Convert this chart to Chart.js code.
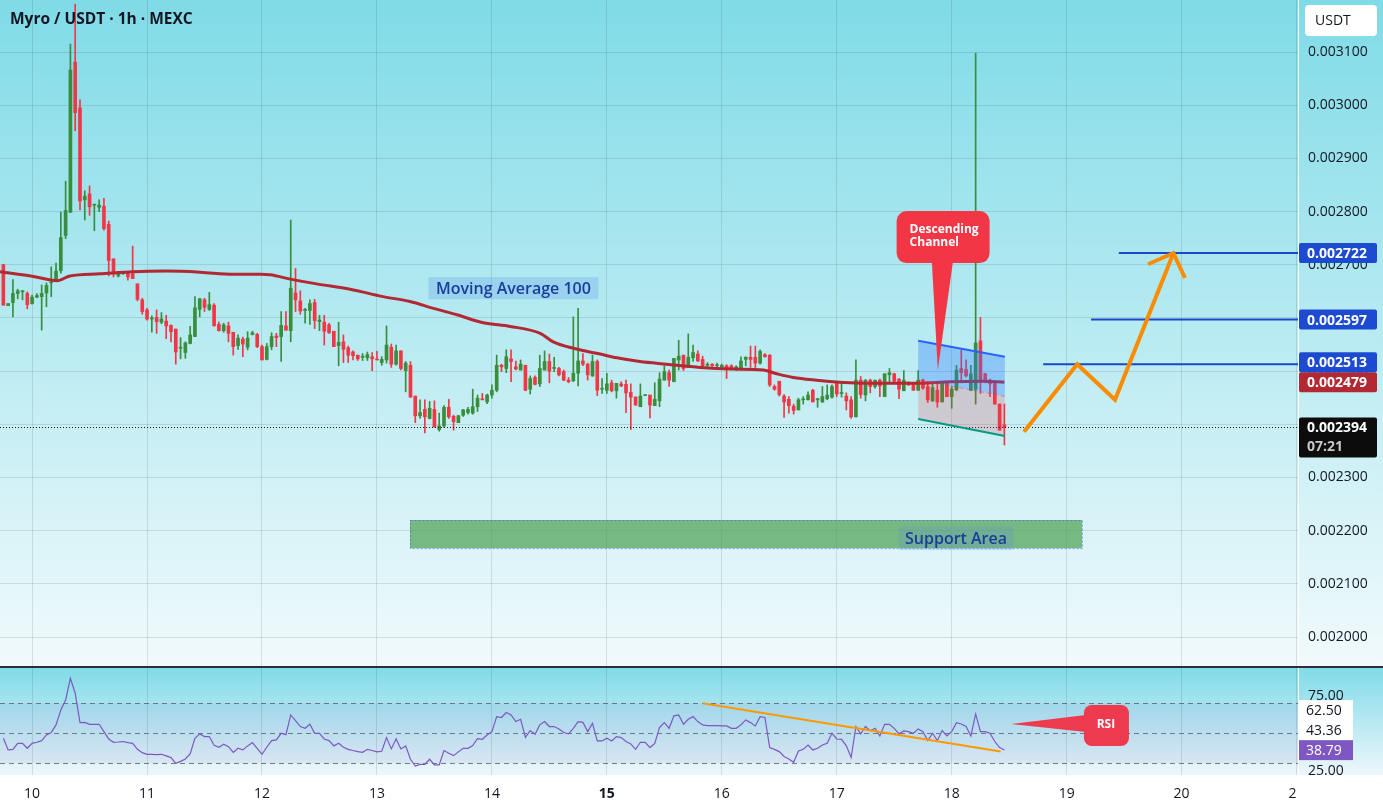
<!DOCTYPE html>
<html>
<head>
<meta charset="utf-8">
<title>Myro / USDT · 1h · MEXC</title>
<script src="https://cdn.jsdelivr.net/npm/chart.js@4.4.1/dist/chart.umd.min.js"></script>
<style>
  html, body { margin: 0; padding: 0; background: #fff; }
  #wrap { position: relative; width: 1383px; height: 811px; overflow: hidden; }
  #mainChart { position: absolute; left: 0; top: 0; }
  #sep { position: absolute; left: 0; top: 666px; width: 1383px; height: 2px; background: #2a2e39; }
  #rsiChart { position: absolute; left: 0; top: 668px; }
</style>
</head>
<body>
<div id="wrap">
  <canvas id="mainChart" width="1383" height="666"></canvas>
  <div id="sep"></div>
  <canvas id="rsiChart" width="1383" height="143"></canvas>
</div>
<script>
const FONT = '"Open Sans", "Noto Sans", sans-serif';
const TEXT = '#131722';
const GRID = 'rgba(42, 46, 57, 0.13)';
const UP = '#388e3c';
const DOWN = '#f23645';
const AXIS_W = 85;

// time axis in hours from the 10th 00:00, one candle per hour
const X_MIN = -6.7, X_MAX = 264.3;
const dayTicks = [0, 24, 48, 72, 96, 120, 144, 168, 192, 216, 240, 264];
const dayLabels = ['10', '11', '12', '13', '14', '15', '16', '17', '18', '19', '20', '21'];
const firstHour = -6;

// price axis, values in millionths of USDT
const PRICE_MIN = 1945.5, PRICE_MAX = 3197.8;
const priceTicks = [2000, 2100, 2200, 2300, 2400, 2500, 2600, 2700, 2800, 2900, 3000, 3100];

const open = [
  2700, 2623, 2629, 2646, 2649, 2646, 2627, 2639, 2640, 2647, 2666, 2671, 2689, 2755, 2799, 3081, 2995, 2822, 2833, 2812,
  2808, 2810, 2776, 2711, 2679, 2683, 2685, 2683, 2664, 2634, 2615, 2598, 2601, 2592, 2594, 2586, 2579, 2543, 2535, 2552,
  2565, 2616, 2634, 2616, 2624, 2588, 2576, 2585, 2573, 2548, 2560, 2545, 2569, 2569, 2546, 2522, 2546, 2566, 2565, 2585,
  2576, 2647, 2632, 2614, 2614, 2629, 2593, 2592, 2587, 2575, 2548, 2555, 2544, 2536, 2530, 2526, 2525, 2527, 2522, 2516,
  2521, 2545, 2513, 2538, 2501, 2511, 2453, 2416, 2428, 2411, 2428, 2390, 2397, 2432, 2415, 2403, 2417, 2422, 2421, 2433,
  2447, 2442, 2455, 2464, 2511, 2505, 2523, 2508, 2502, 2511, 2466, 2488, 2476, 2502, 2518, 2505, 2505, 2499, 2483, 2482,
  2496, 2519, 2513, 2491, 2518, 2466, 2464, 2478, 2463, 2476, 2475, 2460, 2451, 2433, 2454, 2455, 2435, 2444, 2483, 2497,
  2480, 2521, 2530, 2507, 2525, 2532, 2522, 2511, 2513, 2510, 2508, 2510, 2510, 2505, 2506, 2522, 2526, 2526, 2515, 2531,
  2530, 2471, 2481, 2453, 2447, 2434, 2427, 2446, 2446, 2464, 2446, 2442, 2448, 2451, 2477, 2458, 2453, 2446, 2414, 2483,
  2455, 2483, 2471, 2483, 2452, 2493, 2495, 2485, 2463, 2478, 2477, 2464, 2483, 2471, 2444, 2464, 2442, 2480, 2452, 2465,
  2505, 2503, 2464, 2466, 2557, 2495, 2483, 2477, 2438, 2399
];
const high = [
  2701, 2627, 2672, 2654, 2652, 2649, 2643, 2646, 2662, 2666, 2696, 2703, 2799, 2857, 3115, 3190, 3010, 2839, 2848, 2814,
  2822, 2825, 2782, 2711, 2687, 2687, 2687, 2735, 2664, 2637, 2618, 2604, 2615, 2610, 2605, 2587, 2579, 2563, 2555, 2584,
  2640, 2637, 2637, 2648, 2627, 2592, 2590, 2592, 2573, 2568, 2564, 2574, 2575, 2571, 2549, 2552, 2572, 2571, 2612, 2612,
  2784, 2693, 2651, 2618, 2634, 2635, 2605, 2605, 2590, 2575, 2592, 2568, 2547, 2538, 2530, 2533, 2536, 2535, 2537, 2527,
  2585, 2551, 2549, 2538, 2518, 2518, 2453, 2446, 2446, 2443, 2444, 2421, 2435, 2447, 2417, 2417, 2428, 2432, 2466, 2455,
  2458, 2457, 2474, 2530, 2513, 2540, 2540, 2519, 2521, 2511, 2491, 2491, 2530, 2538, 2532, 2526, 2507, 2502, 2488, 2602,
  2618, 2533, 2515, 2530, 2521, 2486, 2496, 2483, 2477, 2480, 2483, 2476, 2452, 2476, 2455, 2455, 2478, 2497, 2510, 2502,
  2524, 2558, 2530, 2570, 2549, 2538, 2528, 2516, 2514, 2515, 2513, 2512, 2512, 2510, 2527, 2527, 2547, 2547, 2540, 2533,
  2531, 2474, 2481, 2456, 2452, 2438, 2449, 2452, 2461, 2466, 2449, 2471, 2474, 2474, 2478, 2477, 2459, 2452, 2521, 2490,
  2484, 2485, 2483, 2485, 2495, 2505, 2496, 2486, 2501, 2480, 2479, 2501, 2485, 2480, 2477, 2480, 2480, 2481, 2471, 2511,
  2540, 2521, 2511, 3098, 2601, 2496, 2485, 2480, 2438, 2438
];
const low = [
  2624, 2623, 2602, 2636, 2634, 2617, 2626, 2638, 2577, 2621, 2640, 2670, 2684, 2749, 2798, 2952, 2803, 2784, 2793, 2764,
  2800, 2765, 2679, 2677, 2677, 2682, 2671, 2674, 2632, 2607, 2596, 2573, 2571, 2589, 2561, 2555, 2513, 2523, 2524, 2551,
  2565, 2602, 2612, 2614, 2585, 2575, 2573, 2555, 2530, 2541, 2527, 2540, 2568, 2544, 2521, 2521, 2540, 2546, 2518, 2577,
  2555, 2612, 2607, 2590, 2588, 2580, 2576, 2549, 2571, 2546, 2510, 2516, 2516, 2521, 2520, 2520, 2520, 2501, 2521, 2511,
  2515, 2507, 2511, 2502, 2461, 2451, 2403, 2411, 2384, 2410, 2395, 2387, 2394, 2411, 2389, 2403, 2415, 2419, 2419, 2424,
  2446, 2439, 2449, 2461, 2499, 2497, 2480, 2502, 2502, 2463, 2457, 2474, 2471, 2502, 2478, 2499, 2491, 2482, 2478, 2480,
  2472, 2510, 2483, 2490, 2454, 2458, 2458, 2461, 2449, 2471, 2422, 2390, 2436, 2433, 2454, 2412, 2435, 2433, 2483, 2471,
  2480, 2502, 2501, 2507, 2518, 2518, 2507, 2508, 2509, 2508, 2507, 2486, 2502, 2501, 2502, 2510, 2507, 2505, 2513, 2526,
  2471, 2464, 2453, 2413, 2421, 2419, 2427, 2438, 2446, 2442, 2432, 2441, 2446, 2449, 2452, 2451, 2427, 2411, 2414, 2449,
  2444, 2459, 2468, 2452, 2452, 2480, 2480, 2448, 2463, 2473, 2464, 2464, 2466, 2441, 2443, 2432, 2442, 2452, 2430, 2463,
  2480, 2489, 2463, 2438, 2458, 2478, 2452, 2438, 2389, 2361
];
const close = [
  2624, 2627, 2646, 2651, 2649, 2625, 2639, 2642, 2646, 2661, 2668, 2688, 2751, 2802, 3066, 2986, 2820, 2829, 2809, 2812,
  2812, 2768, 2708, 2682, 2684, 2685, 2677, 2674, 2635, 2612, 2598, 2598, 2593, 2598, 2585, 2574, 2536, 2543, 2553, 2568,
  2619, 2636, 2620, 2625, 2585, 2576, 2587, 2571, 2546, 2562, 2551, 2562, 2572, 2546, 2521, 2546, 2565, 2563, 2586, 2577,
  2656, 2634, 2613, 2616, 2627, 2595, 2596, 2575, 2572, 2546, 2554, 2541, 2530, 2529, 2523, 2528, 2531, 2523, 2521, 2522,
  2549, 2513, 2538, 2505, 2515, 2451, 2416, 2422, 2414, 2430, 2395, 2397, 2432, 2414, 2405, 2416, 2427, 2428, 2433, 2449,
  2446, 2455, 2464, 2511, 2508, 2527, 2518, 2504, 2513, 2464, 2486, 2475, 2505, 2518, 2500, 2506, 2493, 2483, 2480, 2496,
  2519, 2513, 2493, 2518, 2464, 2466, 2476, 2463, 2477, 2472, 2459, 2451, 2436, 2453, 2455, 2436, 2447, 2485, 2499, 2483,
  2524, 2528, 2505, 2526, 2535, 2519, 2510, 2513, 2510, 2511, 2511, 2506, 2505, 2508, 2519, 2526, 2522, 2515, 2537, 2527,
  2474, 2466, 2456, 2442, 2435, 2426, 2446, 2447, 2455, 2442, 2448, 2452, 2455, 2471, 2457, 2459, 2444, 2414, 2483, 2456,
  2483, 2471, 2483, 2472, 2495, 2497, 2481, 2466, 2483, 2474, 2464, 2483, 2468, 2446, 2469, 2442, 2477, 2452, 2466, 2502,
  2497, 2491, 2495, 2553, 2480, 2480, 2476, 2438, 2389, 2394
];

// moving average 100
const maHours = [-6.7, 0.3, 5.2, 7.9, 14.2, 21.1, 28.1, 35.1, 42.0, 47.6, 49.7, 53.9, 59.4, 66.4, 73.3, 78.9, 83.8, 88.7, 94.2, 99.8,
  106.1, 108.8, 113.0, 118.6, 122.1, 126.9, 132.5, 139.5, 146.4, 152.7, 155.5, 158.9, 163.8, 170.8, 177.7, 184.7, 191.6, 198.6, 203.0];
const maValues = [2687, 2678, 2670, 2679, 2683, 2687, 2688, 2686, 2682, 2682, 2681, 2673, 2664, 2654, 2640, 2631, 2618, 2606, 2591, 2584,
  2571, 2555, 2543, 2532, 2525, 2518, 2513, 2507, 2504, 2502, 2495, 2488, 2483, 2478, 2477, 2477, 2480, 2481, 2479];

// RSI, one value per candle
const rsi = [
  46.7, 38.9, 39.3, 43.3, 43.3, 40.0, 43.3, 44.0, 45.1, 48.9, 50.5, 55.6, 65.6, 72.2, 86.7, 76.7, 57.1, 57.3, 56.0, 56.0,
  56.0, 51.1, 46.2, 44.0, 44.2, 44.5, 43.8, 43.3, 39.3, 37.1, 36.0, 36.0, 35.8, 36.0, 34.9, 33.8, 30.0, 31.3, 32.9, 36.2,
  46.7, 49.6, 47.8, 47.8, 42.0, 40.7, 42.7, 41.1, 37.3, 40.0, 38.9, 41.6, 43.8, 40.0, 36.0, 40.7, 45.1, 45.6, 50.0, 49.1,
  62.2, 58.5, 54.5, 53.3, 56.0, 50.0, 50.0, 46.2, 45.1, 41.6, 43.3, 40.7, 39.3, 38.5, 37.8, 37.3, 39.3, 38.5, 37.6, 38.0,
  47.1, 39.6, 46.2, 39.6, 41.6, 32.7, 28.2, 29.3, 29.3, 32.7, 28.9, 28.9, 38.5, 36.7, 35.1, 37.6, 40.0, 40.0, 41.8, 46.5,
  46.0, 48.9, 51.1, 61.1, 60.5, 63.8, 62.2, 57.8, 59.3, 47.3, 51.8, 49.3, 55.6, 57.8, 54.5, 54.5, 52.9, 50.5, 49.6, 53.3,
  57.8, 57.3, 51.1, 56.7, 44.9, 44.9, 46.7, 44.9, 47.8, 47.1, 44.5, 42.9, 39.3, 44.0, 44.0, 40.5, 43.3, 53.8, 57.1, 53.3,
  61.6, 62.2, 56.0, 59.3, 61.1, 57.8, 55.6, 55.1, 55.1, 55.1, 54.9, 54.9, 53.3, 53.3, 55.6, 58.9, 57.1, 54.9, 61.1, 60.5,
  40.5, 39.3, 37.8, 34.5, 32.9, 30.7, 38.2, 39.3, 42.2, 38.9, 40.0, 42.2, 43.3, 50.0, 46.2, 46.0, 41.6, 33.8, 54.5, 49.6,
  54.5, 51.6, 53.3, 48.2, 56.0, 56.0, 53.3, 49.6, 51.6, 51.1, 50.0, 52.9, 51.1, 45.1, 50.0, 45.1, 51.8, 48.2, 51.1, 57.1,
  56.2, 54.5, 48.2, 62.9, 51.1, 51.1, 50.0, 44.5, 40.5, 38.8
];
const RSI_MIN = 22.2, RSI_MAX = 93.5;
const rsiTicks = [25, 75];
const rsiBands = [70, 50, 30];
const rsiBadges = [62.50, 43.36, 38.79];

// drawings on the chart, as (hour, price) pairs
const channelTop = [[185.0, 2557], [203.1, 2527]];
const channelBottom = [[185.0, 2410], [203.1, 2378]];
const targetLevels = [2722, 2597, 2513];
const targetStarts = [226.9, 221.1, 211.1];
const arrowPath = [[207.1, 2386], [218.2, 2513], [226.1, 2446], [238.3, 2722]];
const arrowHead = [[233.0, 2701], [238.3, 2722], [240.7, 2675]];
const supportHours = [78.9, 219.2];
const supportPrices = [2167, 2220];
const maLabelAt = [100.5, 2656];
const supportLabelAt = [192.9, 2186];
const channelNoteAt = [190.1, 2752];
const channelNoteTip = [189.1, 2502];
const rsiTrend = [[140, 70], [202.2, 37.8]];
const rsiNoteAt = [224.2, 55.5];
const rsiNoteTip = [204.4, 56.2];

const hours = close.map((_, i) => firstHour + i);
const candleColors = close.map((c, i) => (c >= open[i] ? UP : DOWN));
const fmtPrice = v => (v / 1e6).toFixed(6);

function labelBox(ctx, text, cx, cy, font, color, bg, w, h) {
    ctx.font = font;
    const tw = ctx.measureText(text).width;
    const bw = w || tw + 8;
    if (bg) {
        ctx.fillStyle = bg;
        ctx.fillRect(cx - bw / 2, cy - h / 2, bw, h);
    }
    ctx.fillStyle = color;
    ctx.textAlign = 'center';
    ctx.textBaseline = 'middle';
    ctx.fillText(text, cx, cy + 1);
}

function axisBadge(ctx, x, yc, w, bg, fg, text, sub) {
    const h = sub ? 40 : 20;
    ctx.fillStyle = bg;
    ctx.beginPath();
    ctx.roundRect(x, yc - 10, w, h, 2);
    ctx.fill();
    ctx.font = 'bold 14px ' + FONT;
    ctx.textAlign = 'left';
    ctx.textBaseline = 'middle';
    ctx.fillStyle = fg;
    ctx.fillText(text, x + 8, yc + 1);
    if (sub) {
        ctx.fillStyle = '#c8c8c8';
        ctx.fillText(sub, x + 8, yc + 20);
    }
}

const mainOverlay = {
    id: 'mainOverlay',
    beforeDraw(chart) {
        const { ctx, width, height, chartArea: a } = chart;
        const g = ctx.createLinearGradient(0, 0, 0, height);
        g.addColorStop(0, '#7fdbe7');
        g.addColorStop(1, '#f1fafc');
        ctx.save();
        ctx.fillStyle = g;
        ctx.fillRect(0, 0, width, height);
        ctx.fillStyle = '#ffffff';
        ctx.fillRect(a.right, 0, 1, height);
        ctx.restore();
    },
    afterDatasetsDraw(chart) {
        const { ctx, chartArea: a, scales: { x, y } } = chart;
        const X = h => x.getPixelForValue(h);
        const Y = p => y.getPixelForValue(p);
        ctx.save();
        ctx.beginPath();
        ctx.rect(a.left, a.top, a.right - a.left, a.bottom - a.top);
        ctx.clip();

        // current price
        const ly = Math.round(Y(close[close.length - 1])) + 0.5;
        ctx.setLineDash([1, 2]);
        ctx.strokeStyle = TEXT;
        ctx.lineWidth = 1;
        ctx.beginPath();
        ctx.moveTo(a.left, ly);
        ctx.lineTo(a.right, ly);
        ctx.stroke();
        ctx.setLineDash([]);

        // support zone
        const sx1 = X(supportHours[0]), sx2 = X(supportHours[1]);
        const sy1 = Y(supportPrices[1]), sy2 = Y(supportPrices[0]);
        ctx.fillStyle = 'rgba(76, 160, 80, 0.7)';
        ctx.fillRect(sx1, sy1, sx2 - sx1, sy2 - sy1);
        ctx.setLineDash([2, 2]);
        ctx.strokeStyle = 'rgba(41, 98, 255, 0.55)';
        ctx.strokeRect(sx1 + 0.5, sy1 + 0.5, sx2 - sx1, sy2 - sy1);
        ctx.setLineDash([]);
        labelBox(ctx, 'Support Area', X(supportLabelAt[0]), Y(supportLabelAt[1]), '600 16px ' + FONT,
            '#1b3d99', 'rgba(90, 140, 220, 0.22)', 114, 24);

        // descending channel
        const t0 = [X(channelTop[0][0]), Y(channelTop[0][1])], t1 = [X(channelTop[1][0]), Y(channelTop[1][1])];
        const b0 = [X(channelBottom[0][0]), Y(channelBottom[0][1])], b1 = [X(channelBottom[1][0]), Y(channelBottom[1][1])];
        const m0 = [t0[0], (t0[1] + b0[1]) / 2], m1 = [t1[0], (t1[1] + b1[1]) / 2];
        ctx.fillStyle = 'rgba(41, 121, 255, 0.33)';
        ctx.beginPath();
        ctx.moveTo(...t0); ctx.lineTo(...t1); ctx.lineTo(...m1); ctx.lineTo(...m0);
        ctx.closePath();
        ctx.fill();
        ctx.fillStyle = 'rgba(242, 54, 69, 0.2)';
        ctx.beginPath();
        ctx.moveTo(...m0); ctx.lineTo(...m1); ctx.lineTo(...b1); ctx.lineTo(...b0);
        ctx.closePath();
        ctx.fill();
        ctx.lineWidth = 1;
        ctx.setLineDash([4, 3]);
        ctx.strokeStyle = 'rgba(242, 54, 69, 0.45)';
        ctx.beginPath(); ctx.moveTo(...m0); ctx.lineTo(...m1); ctx.stroke();
        ctx.setLineDash([]);
        ctx.lineWidth = 2;
        ctx.strokeStyle = '#2962ff';
        ctx.beginPath(); ctx.moveTo(...t0); ctx.lineTo(...t1); ctx.stroke();
        ctx.strokeStyle = '#089981';
        ctx.beginPath(); ctx.moveTo(...b0); ctx.lineTo(...b1); ctx.stroke();

        // target levels
        ctx.strokeStyle = '#1848cc';
        ctx.lineWidth = 2;
        targetLevels.forEach((lv, i) => {
            const yy = Y(lv);
            ctx.beginPath();
            ctx.moveTo(X(targetStarts[i]), yy);
            ctx.lineTo(a.right, yy);
            ctx.stroke();
        });

        // projected path
        ctx.strokeStyle = '#fb8c00';
        ctx.lineWidth = 4;
        ctx.lineJoin = 'miter';
        [arrowPath, arrowHead].forEach(path => {
            ctx.beginPath();
            path.forEach(([h, p], i) => (i ? ctx.lineTo(X(h), Y(p)) : ctx.moveTo(X(h), Y(p))));
            ctx.stroke();
        });

        // moving average label
        labelBox(ctx, 'Moving Average 100', X(maLabelAt[0]), Y(maLabelAt[1]), '600 16px ' + FONT,
            '#1b3d99', 'rgba(110, 170, 235, 0.35)', 170, 22);

        // channel callout
        const cx = X(channelNoteAt[0]), cy = Y(channelNoteAt[1]);
        const tipX = X(channelNoteTip[0]), tipY = Y(channelNoteTip[1]);
        ctx.fillStyle = '#f23645';
        ctx.beginPath();
        ctx.moveTo(cx - 11, cy + 20);
        ctx.lineTo(tipX, tipY);
        ctx.lineTo(cx + 11, cy + 20);
        ctx.closePath();
        ctx.fill();
        ctx.beginPath();
        ctx.roundRect(cx - 46, cy - 26, 93, 52, 10);
        ctx.fill();
        ctx.fillStyle = '#ffffff';
        ctx.font = 'bold 12px ' + FONT;
        ctx.textAlign = 'left';
        ctx.textBaseline = 'middle';
        ctx.fillText('Descending', cx - 33, cy - 8);
        ctx.fillText('Channel', cx - 33, cy + 5);
        ctx.restore();

        // title
        ctx.save();
        ctx.font = 'bold 15.5px ' + FONT;
        ctx.fillStyle = TEXT;
        ctx.textAlign = 'left';
        ctx.textBaseline = 'middle';
        ctx.fillText('Myro / USDT · 1h · MEXC', 10, 20);

        // right axis badges
        const bx = a.right + 1, bw = 78;
        const items = [
            { v: close[close.length - 1], bg: '#0c0c0c', sub: '07:21' },
            { v: maValues[maValues.length - 1], bg: '#b22833' },
            ...targetLevels.map(v => ({ v, bg: '#1c4bd1' }))
        ].map(it => ({ ...it, y: Y(it.v) })).sort((p, q) => q.y - p.y);
        let limit = Infinity;
        items.forEach(it => {
            const hgt = it.sub ? 40 : 20;
            if (it.y - 10 + hgt > limit) it.y = limit - hgt + 10;
            limit = it.y - 10;
            axisBadge(ctx, bx, it.y, bw, it.bg, '#ffffff', fmtPrice(it.v), it.sub);
        });

        // currency box
        ctx.fillStyle = '#ffffff';
        ctx.beginPath();
        ctx.roundRect(a.right + 7, 5, 72, 31, 4);
        ctx.fill();
        ctx.font = '14px ' + FONT;
        ctx.fillStyle = TEXT;
        ctx.textAlign = 'left';
        ctx.fillText('USDT', a.right + 17, 21);
        ctx.restore();
    }
};

const rsiOverlay = {
    id: 'rsiOverlay',
    beforeDraw(chart) {
        const { ctx, width, height, chartArea: a } = chart;
        const g = ctx.createLinearGradient(0, 0, 0, a.bottom);
        g.addColorStop(0, '#80dbe8');
        g.addColorStop(1, '#eef7fb');
        ctx.save();
        ctx.fillStyle = '#ffffff';
        ctx.fillRect(0, 0, width, height);
        ctx.fillStyle = g;
        ctx.fillRect(0, 0, width, a.bottom);
        ctx.fillStyle = '#ffffff';
        ctx.fillRect(a.right, 0, 1, a.bottom);
        ctx.restore();
    },
    beforeDatasetsDraw(chart) {
        const { ctx, chartArea: a, scales: { y } } = chart;
        ctx.save();
        const top = y.getPixelForValue(rsiBands[0]), bot = y.getPixelForValue(rsiBands[2]);
        ctx.fillStyle = 'rgba(126, 87, 194, 0.09)';
        ctx.fillRect(a.left, top, a.right - a.left, bot - top);
        ctx.strokeStyle = 'rgba(90, 94, 105, 0.8)';
        ctx.lineWidth = 1;
        ctx.setLineDash([5, 4]);
        rsiBands.forEach(b => {
            const yy = Math.round(y.getPixelForValue(b)) + 0.5;
            ctx.beginPath();
            ctx.moveTo(a.left, yy);
            ctx.lineTo(a.right, yy);
            ctx.stroke();
        });
        ctx.restore();
    },
    afterDatasetsDraw(chart) {
        const { ctx, chartArea: a, scales: { x, y } } = chart;
        const X = h => x.getPixelForValue(h);
        const Y = v => y.getPixelForValue(v);
        ctx.save();
        ctx.strokeStyle = '#ff9800';
        ctx.lineWidth = 2;
        ctx.beginPath();
        ctx.moveTo(X(rsiTrend[0][0]), Y(rsiTrend[0][1]));
        ctx.lineTo(X(rsiTrend[1][0]), Y(rsiTrend[1][1]));
        ctx.stroke();

        const cx = X(rsiNoteAt[0]), cy = Y(rsiNoteAt[1]);
        ctx.fillStyle = '#ee3a4f';
        ctx.beginPath();
        ctx.moveTo(X(rsiNoteTip[0]), Y(rsiNoteTip[1]));
        ctx.lineTo(cx - 20, cy - 10);
        ctx.lineTo(cx - 20, cy + 7);
        ctx.closePath();
        ctx.fill();
        ctx.beginPath();
        ctx.roundRect(cx - 22, cy - 20, 45, 41, 8);
        ctx.fill();
        ctx.fillStyle = '#ffffff';
        ctx.font = 'bold 12px ' + FONT;
        ctx.textAlign = 'center';
        ctx.textBaseline = 'middle';
        ctx.fillText('RSI', cx, cy);

        // the time axis is cut off under the price scale
        ctx.fillStyle = '#ffffff';
        ctx.fillRect(a.right, a.bottom + 5, chart.width - a.right, chart.height - a.bottom);

        // value badges on the RSI scale
        const items = rsiBadges.map((v, i) => ({ v, y: Y(v), last: i === rsiBadges.length - 1 }))
            .sort((p, q) => q.y - p.y);
        let limit = Infinity;
        items.forEach(it => {
            if (it.y + 10 > limit) it.y = limit - 10;
            limit = it.y - 10;
            ctx.fillStyle = it.last ? '#7e57c2' : '#ffffff';
            ctx.fillRect(a.right + 1, it.y - 10, 54, 20);
            ctx.fillStyle = it.last ? '#ffffff' : TEXT;
            ctx.font = '14px ' + FONT;
            ctx.textAlign = 'left';
            ctx.fillText(it.v.toFixed(2), a.right + 8, it.y + 1);
        });
        ctx.restore();
    }
};

function timeScale(showLabels) {
    return {
        type: 'linear',
        min: X_MIN,
        max: X_MAX,
        offset: false,
        grid: { color: GRID, drawTicks: false, offset: false },
        border: { display: false },
        ticks: {
            display: showLabels,
            autoSkip: false,
            maxRotation: 0,
            padding: 11,
            color: TEXT,
            font: c => ({ family: FONT, size: 14, weight: c.tick && c.tick.value === 120 ? 'bold' : 'normal' }),
            callback: v => dayLabels[dayTicks.indexOf(v)]
        },
        afterBuildTicks: s => { s.ticks = dayTicks.map(v => ({ value: v })); },
        afterFit: s => {
            s.height = showLabels ? 36 : 0;
            s.paddingLeft = 0;
            s.paddingRight = 0;
        }
    };
}

function valueScale(min, max, ticks, fmt, withGrid) {
    return {
        position: 'right',
        min,
        max,
        grid: { display: withGrid, color: GRID, drawTicks: false },
        border: { display: false },
        ticks: { color: TEXT, padding: 10, font: { family: FONT, size: 14 }, callback: fmt },
        afterBuildTicks: s => { s.ticks = ticks.map(v => ({ value: v })); },
        afterFit: s => {
            s.width = AXIS_W;
            s.paddingTop = 0;
            s.paddingBottom = 0;
        }
    };
}

new Chart(document.getElementById('mainChart').getContext('2d'), {
    type: 'bar',
    data: {
        datasets: [
            {
                type: 'line',
                label: 'MA 100',
                data: maHours.map((h, i) => ({ x: h, y: maValues[i] })),
                borderColor: '#b22833',
                borderWidth: 3,
                pointRadius: 0,
                cubicInterpolationMode: 'monotone',
                order: 0
            },
            {
                label: 'Body',
                data: hours.map((h, i) => ({ x: h, y: [Math.min(open[i], close[i]), Math.max(open[i], close[i])] })),
                backgroundColor: candleColors,
                barThickness: 3,
                minBarLength: 1,
                grouped: false,
                order: 1
            },
            {
                label: 'Wick',
                data: hours.map((h, i) => ({ x: h, y: [low[i], high[i]] })),
                backgroundColor: candleColors,
                barThickness: 1,
                grouped: false,
                order: 2
            }
        ]
    },
    options: {
        responsive: false,
        animation: false,
        layout: { padding: 0 },
        plugins: { legend: { display: false }, tooltip: { enabled: false } },
        scales: {
            x: timeScale(false),
            y: valueScale(PRICE_MIN, PRICE_MAX, priceTicks, fmtPrice, true)
        }
    },
    plugins: [mainOverlay]
});

new Chart(document.getElementById('rsiChart').getContext('2d'), {
    type: 'line',
    data: {
        datasets: [{
            label: 'RSI',
            data: hours.map((h, i) => ({ x: h, y: rsi[i] })),
            borderColor: '#7e57c2',
            borderWidth: 1.2,
            pointRadius: 0,
            tension: 0
        }]
    },
    options: {
        responsive: false,
        animation: false,
        layout: { padding: 0 },
        plugins: { legend: { display: false }, tooltip: { enabled: false } },
        scales: {
            x: timeScale(true),
            y: valueScale(RSI_MIN, RSI_MAX, rsiTicks, v => v.toFixed(2), false)
        }
    },
    plugins: [rsiOverlay]
});
</script>
</body>
</html>
